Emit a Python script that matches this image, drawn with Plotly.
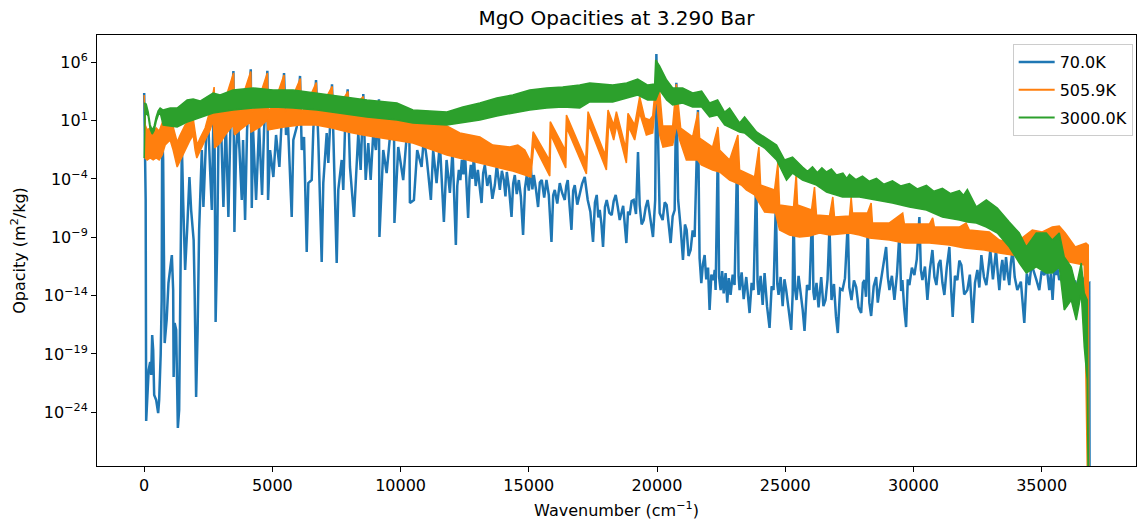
import plotly.graph_objects as go

# ---- data (wavenumber cm^-1, log10 opacity m^2/kg) ----
blue_points = [
[0,3.37],[58,-5.80],[78,-24.74],[136,-22.52],[175,-20.37],[234,-19.69],[273,-20.80],[312,-17.37],[351,-18.66],[390,-22.52],
[468,-22.94],[545,-24.06],[584,-22.94],[643,-19.09],[682,-14.37],[701,0.03],[740,-2.37],[799,-18.06],[877,-16.09],[947,-12.92],
[1013,-11.80],[1079,-10.52],[1130,-13.52],[1149,-20.97],[1188,-16.34],[1247,-16.94],[1313,-25.34],[1364,-23.80],[1422,-10.94],[1469,-1.09],
[1519,-5.80],[1597,-11.80],[1675,-8.37],[1765,-3.83],[1831,-6.66],[1929,-9.23],[1967,-13.52],[2026,-22.69],[2084,-16.94],[2143,-8.37],
[2248,-1.52],[2310,-6.40],[2416,-0.40],[2505,0.46],[2571,-3.23],[2638,-6.66],[2700,1.31],[2747,-1.52],[2786,-16.26],[2844,-10.09],
[2895,-0.92],[3000,0.46],[3090,-6.40],[3183,1.05],[3284,-7.26],[3370,1.05],[3480,5.25],[3519,-8.54],[3584,-1.52],[3662,1.05],
[3806,-5.80],[3857,-0.66],[3935,-7.52],[4013,0.20],[4157,5.40],[4196,-6.49],[4247,0.20],[4364,-5.80],[4481,0.63],[4597,-5.37],
[4675,0.20],[4804,5.28],[4831,-5.80],[4909,-1.52],[5038,-3.83],[5143,-0.23],[5272,-2.97],[5337,0.20],[5454,5.08],[5532,-0.23],
[5610,0.63],[5754,-7.26],[5817,-0.66],[5948,0.46],[6078,4.83],[6144,-1.52],[6234,-0.40],[6339,-10.26],[6402,-4.35],[6534,-4.09],
[6596,0.20],[6701,4.48],[6791,-0.66],[6923,-11.12],[6985,-4.35],[7118,-0.06],[7181,-2.63],[7325,4.11],[7403,-1.52],[7508,-11.20],
[7570,-4.94],[7703,-2.37],[7765,-4.94],[7831,0.20],[7936,3.69],[8026,-2.97],[8182,-7.26],[8260,-4.09],[8350,-0.06],[8443,-3.23],
[8545,3.28],[8638,-4.09],[8739,-0.92],[8833,-4.09],[8934,-0.06],[9038,-1.52],[9156,2.83],[9175,-8.97],[9323,-1.52],[9456,-3.49],
[9584,-0.40],[9740,2.43],[9760,-7.77],[9908,-1.26],[10102,-4.09],[10235,-0.40],[10336,1.99],[10363,-6.06],[10519,-5.80],[10647,-1.52],
[10819,-2.97],[10908,-0.40],[11025,-2.37],[11181,-5.80],[11271,-1.52],[11403,-4.35],[11532,-0.92],[11688,-7.69],[11793,-2.37],[11922,-5.20],
[12027,-1.52],[12155,-9.66],[12210,-4.6],[12272,-3.23],[12330,-4.1],[12389,-2.37],[12450,-3.6],[12506,-1.52],[12570,-4.4],[12634,-7.34],
[12690,-3.9],[12740,-2.80],[12800,-4.0],[12857,-2.12],[12930,-4.6],[13013,-3.23],[13090,-4.8],[13157,-6.06],[13220,-3.5],[13285,-2.80],
[13380,-4.6],[13480,-3.66],[13580,-5.7],[13675,-4.52],[13753,-2.80],[13810,-4.1],[13870,-4.94],[13950,-3.3],[14026,-4.09],[14090,-5.5],
[14142,-3.40],[14230,-4.8],[14326,-7.26],[14390,-4.4],[14454,-3.66],[14530,-5.3],[14610,-4.09],[14690,-5.5],[14777,-8.80],[14850,-4.8],
[14922,-3.66],[15000,-5.0],[15078,-2.97],[15140,-4.9],[15195,-3.66],[15280,-4.9],[15362,-6.40],[15430,-4.3],[15506,-4.09],[15600,-5.6],
[15689,-4.09],[15779,-5.37],[15884,-9.40],[15950,-5.4],[16013,-4.94],[16110,-6.1],[16207,-4.35],[16300,-5.2],[16402,-5.80],[16460,-4.6],
[16519,-4.09],[16590,-6.3],[16663,-8.37],[16730,-5.0],[16792,-4.52],[16890,-6.2],[16987,-5.37],[17080,-4.4],[17181,-3.83],[17240,-5.0],
[17298,-5.80],[17400,-6.8],[17505,-9.40],[17580,-6.0],[17649,-5.37],[17710,-7.3],[17766,-6.66],[17830,-7.8],[17895,-9.83],[17970,-6.4],
[18039,-5.80],[18140,-6.9],[18233,-7.09],[18310,-5.9],[18389,-5.37],[18470,-6.4],[18545,-7.52],[18680,-6.3],[18805,-9.49],[18870,-6.8],
[18935,-7.09],[19010,-5.9],[19090,-5.80],[19180,-7.0],[19259,-1.69],[19324,-6.23],[19400,-7.9],[19480,-7.52],[19560,-6.4],[19636,-5.80],
[19740,-7.3],[19843,-8.97],[19929,-5.80],[19975,6.71],[20026,1.05],[20103,-6.92],[20220,-7.52],[20300,-6.0],[20376,-6.23],[20450,-7.6],
[20532,-9.49],[20610,-7.2],[20688,-6.66],[20754,4.25],[20824,-5.80],[20920,-8.1],[21012,-10.94],[21090,-7.9],[21156,-8.37],[21230,-10.6],
[21311,-10.09],[21390,-8.4],[21467,-8.97],[21596,1.91],[21660,-10.8],[21728,-12.92],[21790,-11.3],[21857,-10.52],[21920,-12.6],[21990,-11.6],
[22051,-15.23],[22120,-12.2],[22207,-12.66],[22250,-11.8],[22285,-13.52],[22375,-0.92],[22420,-12.4],[22480,-13.52],[22540,-11.9],[22600,-13.8],
[22675,-12.06],[22740,-14.6],[22800,-12.5],[22870,-13.94],[22950,-12.2],[23025,-13.09],[23130,-1.52],[23180,-12.3],[23220,-13.52],[23300,-12.0],
[23380,-14.3],[23481,-12.40],[23540,-13.7],[23610,-15.49],[23690,-12.9],[23766,-13.52],[23871,-3.49],[23920,-12.8],[23961,-13.94],[24040,-12.3],
[24120,-14.8],[24195,-12.06],[24290,-14.9],[24389,-16.77],[24470,-13.2],[24545,-13.52],[24635,-6.06],[24690,-13.0],[24740,-13.94],[24820,-12.4],
[24900,-14.9],[24970,-12.6],[25038,-13.52],[25130,-15.3],[25233,-16.94],[25290,-13.9],[25324,-6.66],[25380,-13.4],[25441,-14.37],[25520,-12.3],
[25597,-13.52],[25680,-15.2],[25753,-17.03],[25850,-13.1],[25947,-13.52],[26052,-6.49],[26100,-13.7],[26142,-14.37],[26220,-12.9],[26300,-15.0],
[26403,-12.40],[26490,-14.9],[26571,-14.37],[26650,-12.6],[26727,-8.12],[26770,-13.2],[26805,-14.37],[26900,-13.0],[26980,-15.8],[27050,-17.20],
[27140,-13.4],[27233,-13.52],[27330,-12.5],[27440,-7.77],[27500,-13.3],[27584,-14.37],[27680,-12.7],[27767,-13.26],[27860,-15.0],[27962,-15.49],
[28030,-12.9],[28090,-12.66],[28150,-14.1],[28219,-8.03],[28280,-14.6],[28351,-15.74],[28450,-13.2],[28546,-12.40],[28610,-14.6],[28675,-13.52],
[28800,-11.9],[28935,-9.83],[29000,-12.4],[29064,-13.52],[29160,-12.3],[29259,-14.37],[29360,-12.1],[29454,-8.63],[29520,-13.6],[29570,-12.66],
[29640,-15.1],[29714,-16.69],[29780,-12.6],[29843,-13.09],[29940,-11.6],[30038,-12.23],[30130,-10.9],[30233,-7.26],[30290,-11.8],[30350,-12.66],
[30450,-11.5],[30545,-14.37],[30640,-11.8],[30740,-10.09],[30820,-12.4],[30896,-13.09],[30980,-11.3],[31052,-10.94],[31130,-12.9],[31207,-13.94],
[31300,-11.6],[31402,-9.83],[31470,-13.4],[31532,-15.83],[31620,-12.3],[31714,-12.66],[31790,-11.0],[31870,-11.37],[31980,-13.9],[32103,-13.52],
[32200,-12.2],[32310,-16.34],[32400,-12.9],[32493,-11.80],[32570,-13.3],[32649,-10.52],[32750,-12.4],[32843,-13.09],[32920,-11.7],[32999,-10.09],
[33100,-12.6],[33221,-10.09],[33290,-12.1],[33350,-13.52],[33410,-11.8],[33467,-10.94],[33540,-12.7],[33611,-10.69],[33680,-12.2],[33739,-13.09],
[33800,-11.2],[33868,-10.09],[33950,-12.4],[34051,-13.52],[34190,-12.8],[34324,-16.34],[34420,-12.1],[34519,-13.09],[34600,-11.4],[34675,-11.80],
[34790,-12.6],[34908,-13.52],[35000,-11.9],[35103,-12.23],[35200,-11.6],[35298,-13.52],[35360,-12.1],[35427,-14.37],[35500,-11.6],[35560,-12.23],
[35620,-11.7],[35687,-12.66],[35800,-12.1],[35948,-14.97],[36050,-12.5],[36155,-13.52],[36300,-12.7],[36467,-13.94],[36580,-12.4],[36701,-13.09],
[36856,-12.92],[36876,-40],
]

orange_upper = [
[0,3.20],[39,0.63],[117,0.20],[234,0.37],[351,0.03],[468,0.37],[584,0.11],[701,0.80],[818,1.74],[896,1.23],
[1013,0.63],[1130,0.46],[1208,-0.23],[1286,-0.83],[1403,-0.23],[1597,0.63],[1792,1.05],[1909,1.23],[1987,0.03],[2065,-1.09],
[2182,-0.49],[2377,0.37],[2571,1.91],[2688,3.20],[2727,3.88],[2766,1.48],
[3214,3.20],[3486,5.08],[3526,1.74],[3884,3.37],[4157,5.21],[4196,1.74],[4531,3.28],[4804,5.08],[4843,1.74],
[5182,3.20],[5454,4.91],[5493,1.74],[5817,3.20],[6090,4.61],[6128,1.65],[6440,2.94],[6713,4.27],[6752,1.57],
[7059,2.77],[7332,3.93],[7371,1.48],[7675,2.60],[7948,3.50],[7987,1.40],[8271,2.43],[8544,3.07],[8583,1.23],
[8883,2.25],[9156,2.64],[9195,1.05],[9467,2.00],[9740,2.25],[9779,0.88],[10063,1.66],[10336,1.83],[10375,0.80],
[11143,0.71],[11805,0.54],[12311,-0.06],[13091,-0.40],[13597,-1.09],[14259,-1.26],[14571,-1.09],[14844,-1.52],[15078,-2.54],
[15167,0.05],[15798,-2.37],[15837,0.91],[16422,-1.52],[16468,1.48],[17220,-2.37],[17310,1.77],[17980,-1.95],[18089,1.91],[18311,0.63],
[18416,1.77],[18779,-1.35],[18868,1.63],[19129,0.63],[19324,3.05],[19519,1.23],[19714,1.05],[19831,1.40],[19948,4.14],[19975,6.20],
[20065,4.48],[20220,0.54],[20610,0.54],[20754,4.14],[20844,2.08],[20922,0.37],[21389,-0.40],[21596,1.74],[21662,-0.49],[22168,-1.26],
[22375,0.46],[22441,-1.52],[22831,-2.37],[23154,-0.23],[23220,-3.23],[23805,-3.83],[23973,-1.26],[24039,-4.52],[24584,-4.94],[24713,-2.63],
[24779,-6.23],[25324,-6.40],[25430,-3.49],[25480,-6.23],[26025,-6.66],[26142,-4.69],[26220,-7.09],[26727,-7.17],[26855,-5.54],[26922,-7.26],
[27506,-7.17],[27572,-5.54],[27623,-6.92],[28207,-6.92],[28351,-6.06],[28402,-7.77],[29064,-7.77],[29582,-6.92],[29648,-7.86],[30623,-7.86],
[30751,-7.34],[30818,-8.12],[31791,-8.12],[32052,-7.77],[32181,-8.37],[32960,-8.54],[33350,-9.23],[33856,-9.49],[34129,-9.23],[34636,-8.37],
[35025,-8.54],[35415,-8.12],[35687,-8.03],[35921,-8.63],[36311,-9.83],[36728,-9.49],[36817,-9.66],[36856,-40],
]

orange_lower = [
[0,-2.12],[117,-2.37],[234,-2.20],[351,-2.37],[468,-2.20],[584,-2.37],[701,-1.95],[818,-1.09],[1013,-0.66],[1130,-1.52],
[1286,-2.97],[1403,-2.37],[1597,-1.52],[1792,-0.66],[1909,-0.23],[1987,-1.52],[2053,-2.20],[2182,-1.52],[2377,-0.66],[2571,0.20],
[2688,1.05],[2747,-1.35],[2961,-0.92],[3156,-0.23],[3467,0.63],[3526,-0.23],[3740,0.20],[4130,0.88],[4169,0.03],[4519,0.46],
[4792,1.05],[4831,0.20],[5454,0.46],[6078,0.63],[6701,0.63],[7325,0.37],[7948,0.03],[8532,-0.23],[9195,-0.49],[10480,-0.92],
[11805,-1.95],[13091,-2.63],[14376,-3.32],[15078,-3.83],[15195,-1.09],[15818,-3.75],[15857,-0.23],[16441,-3.06],[16480,0.37],[17246,-3.57],
[17337,0.63],[18026,-3.23],[18116,0.80],[18311,-0.66],[18428,0.63],[18805,-2.63],[18896,0.46],[19129,-0.66],[19324,1.66],[19585,-0.23],
[19831,-0.06],[19975,3.20],[20103,-0.23],[20232,-1.26],[20610,-1.09],[20766,0.63],[20883,-0.66],[21144,-2.37],[21584,-2.37],[21728,-2.80],
[22168,-3.23],[22441,-3.40],[22831,-4.09],[23287,-4.52],[23482,-4.94],[23805,-5.37],[24195,-6.83],[24623,-6.92],[24779,-8.37],[25168,-8.80],
[25558,-8.97],[25947,-8.89],[26337,-8.63],[26727,-8.80],[27116,-8.72],[27506,-8.63],[27895,-8.80],[28285,-9.06],[29064,-9.23],[29648,-9.49],
[30623,-9.49],[31402,-9.66],[31986,-9.92],[32765,-10.09],[33350,-10.34],[33856,-10.52],[34519,-10.60],[35298,-10.77],[36077,-11.12],[36662,-11.37],
[36856,-40],
]

green_upper = [
[0,2.51],[78,2.43],[156,1.74],[234,0.63],[312,0.20],[390,0.54],[468,1.31],[545,1.83],[623,2.08],[740,1.91],
[1013,2.08],[1286,2.08],[1675,2.77],[1909,2.85],[2182,2.68],[2454,3.03],[2688,3.37],[2961,3.20],[3467,3.63],[4247,3.80],
[5026,3.63],[5805,3.63],[6740,3.37],[7363,3.20],[8688,2.77],[9857,2.51],[10480,1.91],[11805,1.74],[12428,2.17],[13091,2.51],
[13753,2.94],[14376,3.20],[15039,3.63],[15701,3.80],[16324,3.88],[16987,4.05],[17376,4.23],[18272,4.05],[18818,4.23],[19246,4.57],
[19636,4.05],[19909,4.14],[19948,6.20],[20103,5.68],[20376,4.48],[20610,3.80],[21000,3.80],[21389,3.37],[21740,3.54],[22051,2.51],
[22363,2.77],[22636,1.74],[22831,2.08],[23220,0.80],[23415,1.31],[23883,0.03],[24195,-0.40],[24662,-1.09],[24974,-2.37],[25285,-2.12],
[25675,-2.97],[25870,-3.35],[26064,-2.95],[26250,-3.45],[26430,-3.05],[26610,-3.40],[26800,-3.15],[26999,-3.66],[27250,-3.50],[27400,-3.95],
[27506,-3.60],[27750,-4.05],[28012,-3.75],[28280,-4.20],[28558,-3.95],[28850,-4.45],[29181,-4.15],[29500,-4.60],[29843,-4.40],[30150,-4.85],
[30506,-4.55],[30800,-5.05],[31129,-4.80],[31450,-5.25],[31791,-5.00],[31950,-5.40],[32103,-4.90],[32454,-6.40],[32843,-5.80],[33272,-6.49],
[33739,-7.69],[34129,-8.63],[34402,-9.83],[34791,-8.63],[35181,-8.63],[35415,-9.23],[35687,-8.63],[35882,-10.69],[36155,-11.54],[36350,-13.26],
[36545,-11.20],[36662,-13.77],[36778,-14.37],[36856,-40],
]

green_lower = [
[0,-2.20],[39,1.74],[156,1.40],[234,0.25],[312,-0.15],[390,0.15],[468,0.95],[545,1.45],[623,1.70],[740,0.63],
[1286,0.46],[1675,0.88],[1909,1.05],[2182,1.23],[2688,1.66],[3467,1.91],[4247,2.08],[5026,2.17],[5805,2.08],[6740,1.91],
[7363,1.74],[8688,1.31],[9857,1.05],[10480,0.80],[11805,0.63],[12428,0.80],[13091,1.05],[13753,1.40],[14376,1.66],[15039,1.91],
[15701,2.08],[16324,2.17],[16987,2.08],[17376,2.60],[18272,2.60],[18818,2.94],[19246,3.20],[19636,2.77],[19948,2.77],[20103,3.63],
[20376,2.77],[20610,2.34],[21000,2.51],[21389,2.17],[21740,2.17],[22051,1.31],[22363,1.48],[22636,0.63],[22831,0.46],[23220,0.03],
[23415,-0.06],[23883,-0.92],[24195,-1.35],[24662,-2.37],[25051,-4.09],[25285,-3.49],[25675,-4.09],[26220,-4.52],[26610,-5.12],[27233,-5.54],
[27895,-5.54],[28558,-5.80],[29181,-6.06],[29843,-6.40],[30506,-6.66],[31129,-7.26],[31791,-7.52],[32103,-7.69],[32454,-7.77],[32843,-8.12],
[33272,-8.63],[33739,-9.83],[34129,-11.20],[34402,-12.06],[34791,-11.54],[35181,-12.06],[35415,-12.06],[35687,-11.54],[35882,-15.23],[36155,-14.37],
[36350,-16.09],[36545,-13.77],[36662,-18.40],[36778,-21.23],[36856,-40],
]

series_names = ["70.0K", "505.9K", "3000.0K"]
series_colors = ["#1f77b4", "#ff7f0e", "#2ca02c"]
x_ticks = [0, 5000, 10000, 15000, 20000, 25000, 30000, 35000]
y_tick_exponents = [6, 1, -4, -9, -14, -19, -24]


def unzip(points):
    return [p[0] for p in points], [10.0 ** p[1] for p in points]


def band(upper, lower):
    ux, uy = unzip(upper)
    lx, ly = unzip(lower)
    return ux + lx[::-1], uy + ly[::-1]


FONT = "DejaVu Sans"
fig = go.Figure()

# 70.0K line
bx, by = unzip(blue_points)
fig.add_trace(go.Scatter(x=bx, y=by, mode="lines", name=series_names[0],
                         line=dict(color=series_colors[0], width=2.5),
                         legendgroup="a", hoverinfo="skip"))

# 505.9K band
ox, oy = band(orange_upper, orange_lower)
fig.add_trace(go.Scatter(x=ox, y=oy, mode="lines", fill="toself",
                         fillcolor=series_colors[1],
                         line=dict(color=series_colors[1], width=1.5),
                         showlegend=False, hoverinfo="skip"))
fig.add_trace(go.Scatter(x=[None], y=[None], mode="lines", name=series_names[1],
                         line=dict(color=series_colors[1], width=2), legendgroup="b"))

# 3000.0K band
gx, gy = band(green_upper, green_lower)
fig.add_trace(go.Scatter(x=gx, y=gy, mode="lines", fill="toself",
                         fillcolor=series_colors[2],
                         line=dict(color=series_colors[2], width=1.5),
                         showlegend=False, hoverinfo="skip"))
fig.add_trace(go.Scatter(x=[None], y=[None], mode="lines", name=series_names[2],
                         line=dict(color=series_colors[2], width=2), legendgroup="c"))

axis_common = dict(showline=True, mirror=True, linecolor="black", linewidth=1,
                   ticks="outside", ticklen=5, tickwidth=1, tickcolor="black",
                   showgrid=False, zeroline=False,
                   tickfont=dict(family=FONT, size=16, color="black"))

fig.update_layout(
    width=1137, height=524,
    margin=dict(l=97, r=1, t=35, b=58),
    paper_bgcolor="white", plot_bgcolor="white",
    font=dict(family=FONT, size=16, color="black"),
    title=dict(text="MgO Opacities at 3.290 Bar", x=0.5, xref="paper",
               y=1 - 18 / 524, yref="container", yanchor="middle", xanchor="center",
               font=dict(family=FONT, size=20, color="black")),
    xaxis=dict(range=[-1840, 38680], tickvals=x_ticks,
               ticktext=[str(v) for v in x_ticks],
               title=dict(text="Wavenumber (cm<sup>\u22121</sup>)", standoff=10,
                          font=dict(family=FONT, size=16)),
               **axis_common),
    yaxis=dict(type="log", range=[-28.6, 8.34],
               tickvals=[10.0 ** e for e in y_tick_exponents],
               ticktext=["10<sup>%s</sup>" % (str(e).replace("-", "\u2212")) for e in y_tick_exponents],
               title=dict(text="Opacity (m<sup>2</sup>/kg)", standoff=14,
                          font=dict(family=FONT, size=16)),
               **axis_common),
    legend=dict(x=0.9968, y=0.979, xanchor="right", yanchor="top",
                bgcolor="rgba(255,255,255,0.8)", bordercolor="#cccccc", borderwidth=1,
                font=dict(family=FONT, size=16, color="black"),
                tracegroupgap=4, itemwidth=36),
    showlegend=True,
)

fig.write_html("out.html")
